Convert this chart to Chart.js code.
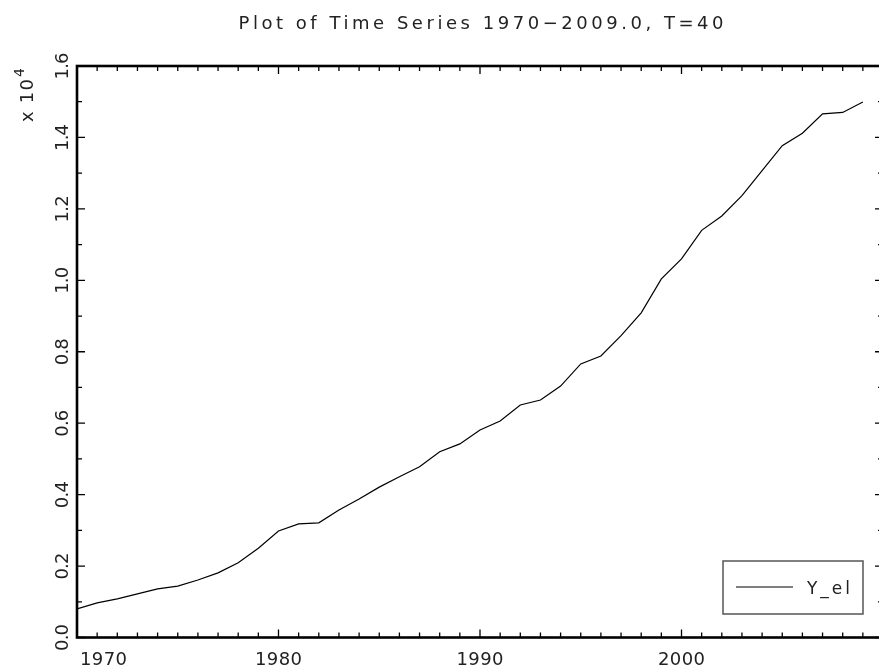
<!DOCTYPE html>
<html lang="en">
<head>
    <meta charset="UTF-8">
    <title>Plot of Time Series</title>
    <script src="https://cdn.jsdelivr.net/npm/chart.js"></script>
    <style>
        html, body {
            margin: 0;
            padding: 0;
            background: #ffffff;
            overflow: hidden;
        }
        #wrap {
            position: absolute;
            left: 0;
            top: 0;
            width: 885px;
            height: 668px;
        }
    </style>
</head>
<body>
    <div id="wrap"><canvas id="ts-chart" width="885" height="668"></canvas></div>
    <script>
        // data (values in raw units, axis shows x 10^4)
        const years = [];
        for (let y = 1970; y <= 2009; y++) years.push(y);
        const yEl = [
            800, 970, 1080, 1220, 1360, 1440, 1610, 1810, 2090, 2500,
            2980, 3180, 3210, 3570, 3880, 4210, 4500, 4780, 5200, 5420,
            5810, 6060, 6510, 6650, 7040, 7660, 7880, 8450, 9090, 10040,
            10600, 11400, 11800, 12370, 13070, 13770, 14120, 14660, 14700, 14990
        ];
        const seriesName = 'Y_el';
        const titleText = 'Plot of Time Series 1970\u22122009.0, T=40';
        const xMajorTicks = [1970, 1980, 1990, 2000, 2010];
        const xTickLabels = [1970, 1980, 1990, 2000];
        const yMajorTicks = [0, 2000, 4000, 6000, 8000, 10000, 12000, 14000, 16000];

        const FONT = '"DejaVu Sans", sans-serif';

        // draw text stretched to a target width by letter spacing
        function spacedText(ctx, txt, x, y, targetW, align) {
            ctx.letterSpacing = '0px';
            const w0 = ctx.measureText(txt).width;
            const sp = txt.length > 1 ? (targetW - w0) / (txt.length - 1) : 0;
            ctx.letterSpacing = sp + 'px';
            let startX = x;
            if (align === 'center') startX = x - targetW / 2;
            else if (align === 'right') startX = x - targetW;
            ctx.textAlign = 'left';
            ctx.fillText(txt, startX, y);
            ctx.letterSpacing = '0px';
        }

        const framePlugin = {
            id: 'frame',
            afterDatasetsDraw(chart) {
                const ctx = chart.ctx;
                const a = chart.chartArea;
                const xs = chart.scales.x;
                const ys = chart.scales.y;
                ctx.save();
                ctx.strokeStyle = '#000';
                ctx.fillStyle = '#222';

                // axis box
                ctx.lineWidth = 2.6;
                ctx.strokeRect(a.left, a.top, a.right - a.left, a.bottom - a.top);

                // x ticks (bottom + top, inward)
                ctx.lineWidth = 1.3;
                for (let yr = 1970; yr <= 2010; yr++) {
                    const px = xs.getPixelForValue(yr);
                    const len = xMajorTicks.includes(yr) ? 8 : 5;
                    ctx.beginPath();
                    ctx.moveTo(px, a.bottom);
                    ctx.lineTo(px, a.bottom - len);
                    ctx.moveTo(px, a.top);
                    ctx.lineTo(px, a.top + len);
                    ctx.stroke();
                }
                // y ticks (left + right, inward)
                for (let v = 0; v <= 16000; v += 1000) {
                    const py = ys.getPixelForValue(v);
                    const len = yMajorTicks.includes(v) ? 8 : 5;
                    ctx.beginPath();
                    ctx.moveTo(a.left, py);
                    ctx.lineTo(a.left + len, py);
                    ctx.moveTo(a.right, py);
                    ctx.lineTo(a.right - len, py);
                    ctx.stroke();
                }

                // x labels
                ctx.font = '18px ' + FONT;
                ctx.textBaseline = 'alphabetic';
                xTickLabels.forEach(yr => {
                    const px = xs.getPixelForValue(yr);
                    const w = 47;
                    if (px - w / 2 < a.left) {
                        spacedText(ctx, String(yr), a.left + 3, 665, w, 'left');
                    } else {
                        spacedText(ctx, String(yr), px, 665, w, 'center');
                    }
                });

                // y labels, rotated
                yMajorTicks.forEach(v => {
                    const py = ys.getPixelForValue(v);
                    ctx.save();
                    ctx.translate(68, py);
                    ctx.rotate(-Math.PI / 2);
                    spacedText(ctx, (v / 10000).toFixed(1), 0, 0, 27, 'center');
                    ctx.restore();
                });

                // exponent label
                ctx.save();
                ctx.translate(33, 122);
                ctx.rotate(-Math.PI / 2);
                ctx.font = '18px ' + FONT;
                spacedText(ctx, 'x 10', 0, 0, 43, 'left');
                ctx.font = '14px ' + FONT;
                ctx.fillText('4', 45, -9);
                ctx.restore();

                // title
                ctx.font = '18px ' + FONT;
                spacedText(ctx, titleText, 481, 29, 485, 'center');

                // legend box
                ctx.lineWidth = 1.5;
                ctx.strokeStyle = '#555';
                ctx.strokeRect(723, 561, 140, 53);
                ctx.strokeStyle = '#000';
                ctx.lineWidth = 1.2;
                ctx.beginPath();
                ctx.moveTo(736, 587);
                ctx.lineTo(793, 587);
                ctx.stroke();
                ctx.font = '17px ' + FONT;
                spacedText(ctx, chart.data.datasets[0].label, 807, 594, 43, 'left');

                ctx.restore();
            }
        };

        new Chart(document.getElementById('ts-chart').getContext('2d'), {
            type: 'line',
            data: {
                datasets: [{
                    label: seriesName,
                    data: years.map((yr, i) => ({ x: yr, y: yEl[i] })),
                    borderColor: '#000',
                    borderWidth: 1.2,
                    pointRadius: 0,
                    tension: 0,
                    fill: false
                }]
            },
            options: {
                responsive: false,
                animation: false,
                layout: {
                    padding: { left: 77, top: 66, right: 2, bottom: 30.5 }
                },
                plugins: {
                    legend: { display: false },
                    title: { display: false },
                    tooltip: { enabled: false }
                },
                scales: {
                    x: {
                        type: 'linear',
                        min: 1970,
                        max: 2010,
                        ticks: { display: false },
                        grid: { display: false },
                        border: { display: false },
                        afterFit: s => { s.height = 0; s.paddingLeft = 0; s.paddingRight = 0; }
                    },
                    y: {
                        min: 0,
                        max: 16000,
                        ticks: { display: false },
                        grid: { display: false },
                        border: { display: false },
                        afterFit: s => { s.width = 0; s.paddingTop = 0; s.paddingBottom = 0; }
                    }
                }
            },
            plugins: [framePlugin]
        });
    </script>
</body>
</html>
